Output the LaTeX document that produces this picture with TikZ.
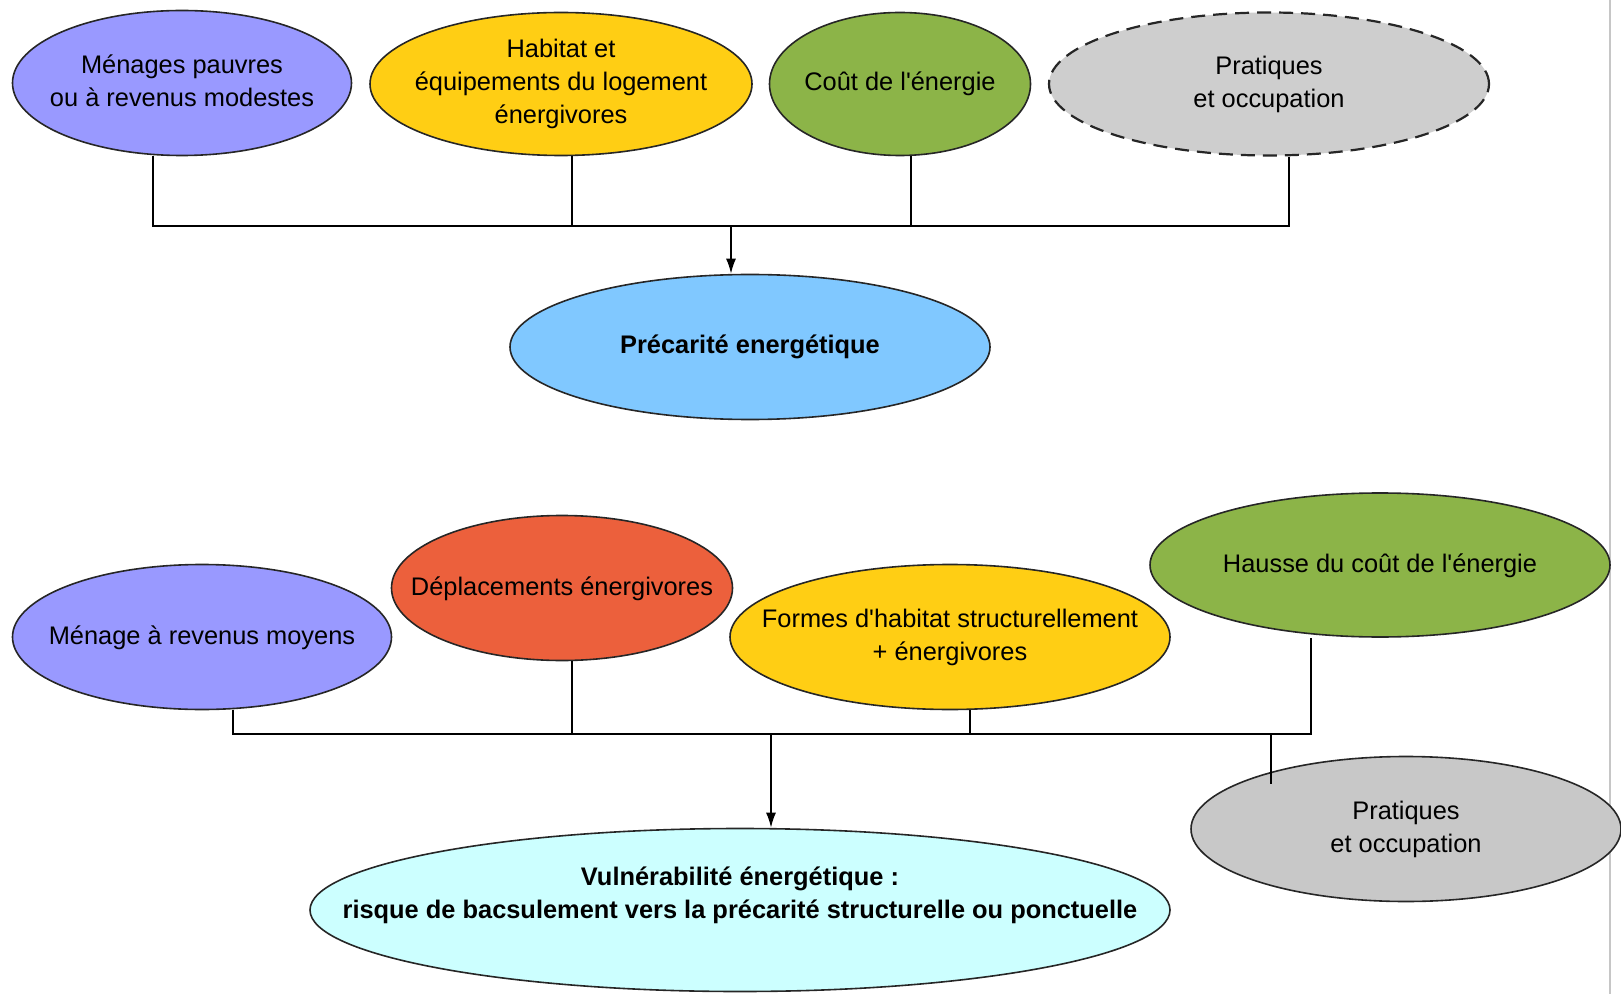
\documentclass[tikz,border=0pt]{standalone}
\usepackage{fontspec}
\setmainfont{Liberation Sans}
\usetikzlibrary{shapes.geometric,arrows.meta}
\definecolor{violet1}{RGB}{153,153,255}
\definecolor{jaune1}{RGB}{255,206,20}
\definecolor{vert1}{RGB}{140,180,72}
\definecolor{gris1}{RGB}{206,206,206}
\definecolor{gris2}{RGB}{200,200,200}
\definecolor{bleu1}{RGB}{128,200,255}
\definecolor{rouge1}{RGB}{236,96,60}
\definecolor{cyan1}{RGB}{204,255,255}
\newcommand{\tb}[2][-3.2pt]{\makebox[0pt]{\smash{\raisebox{#1}{\begin{tabular}{@{}c@{}}#2\end{tabular}}}}}
\begin{document}
\begin{tikzpicture}[x=0.5pt,y=-0.5pt,
  bulle/.style={ellipse,draw=black!85,line width=0.8pt,inner sep=0pt,
    font=\fontsize{12.7}{16.5}\selectfont},
  lien/.style={line width=0.8pt},
  >={Latex[length=7.5pt,width=5pt]}]
\useasboundingbox (0,0) rectangle (1621,994);
\draw [gray!45,line width=0.8pt] (1610,0) -- (1610,994);
% precarite
\node [bulle,fill=violet1,minimum width=169.5pt,minimum height=72.5pt] (m1) at (182,83) {\tb{Ménages pauvres\\ou à revenus modestes}};
\node [bulle,fill=jaune1,minimum width=191pt,minimum height=71.5pt] (h1) at (561,84) {\tb{Habitat et\\équipements du logement\\énergivores}};
\node [bulle,fill=vert1,minimum width=130.5pt,minimum height=71.5pt] (c1) at (900,84) {\tb{Coût de l\textquotesingle énergie}};
\node [bulle,fill=gris1,line width=1.1pt,dash pattern=on 7pt off 4pt,minimum width=220pt,minimum height=71.5pt] (p1) at (1269,84) {\tb{Pratiques\\et occupation}};
\node [bulle,fill=bleu1,font=\fontsize{12.7}{16.5}\selectfont\bfseries,minimum width=240pt,minimum height=72.5pt] (pe) at (750,347) {\tb{Précarité energétique}};
\coordinate (t1) at (153,226);
\coordinate (t2) at (572,226);
\coordinate (t3) at (911,226);
\coordinate (t4) at (1289,226);
\coordinate (ta) at (731,226);
\draw [lien] (m1.south -| t1) -- (t1) -- (t4) -- (p1.south -| t4);
\draw [lien] (h1.south -| t2) -- (t2);
\draw [lien] (c1.south -| t3) -- (t3);
\draw [lien,->] (ta) -- (ta |- pe.north);
% vulnerabilite
\node [bulle,fill=violet1,minimum width=189.5pt,minimum height=72.5pt] (m2) at (202,637) {\tb{Ménage à revenus moyens}};
\node [bulle,fill=rouge1,minimum width=170.5pt,minimum height=72.5pt] (d2) at (562,588) {\tb{Déplacements énergivores}};
\node [bulle,fill=jaune1,minimum width=220pt,minimum height=72.5pt] (f2) at (950,637) {\tb{Formes d\textquotesingle habitat structurellement\\+ énergivores}};
\node [bulle,fill=vert1,minimum width=230pt,minimum height=72pt] (h2) at (1380,565) {\tb{Hausse du coût de l\textquotesingle énergie}};
\node [bulle,fill=gris2,minimum width=215pt,minimum height=72.5pt] (p2) at (1406,829) {\tb{Pratiques\\et occupation}};
\node [bulle,fill=cyan1,font=\fontsize{12.7}{16.5}\selectfont\bfseries,minimum width=430pt,minimum height=81.5pt] (v2) at (740,910) {\tb[4.1pt]{Vulnérabilité énergétique :\\risque de bacsulement vers la précarité structurelle ou ponctuelle}};
\coordinate (u1) at (233,734);
\coordinate (u2) at (572,734);
\coordinate (u3) at (970,734);
\coordinate (u4) at (1311,734);
\coordinate (ua) at (771,734);
\coordinate (up) at (1271,734);
\draw [lien] (m2.south -| u1) -- (u1) -- (u4) -- (h2.south -| u4);
\draw [lien] (d2.south -| u2) -- (u2);
\draw [lien] (f2.south -| u3) -- (u3);
\draw [lien] (up) -- (up |- p2.165);
\draw [lien,->] (ua) -- (ua |- v2.north);
\end{tikzpicture}
\end{document}
